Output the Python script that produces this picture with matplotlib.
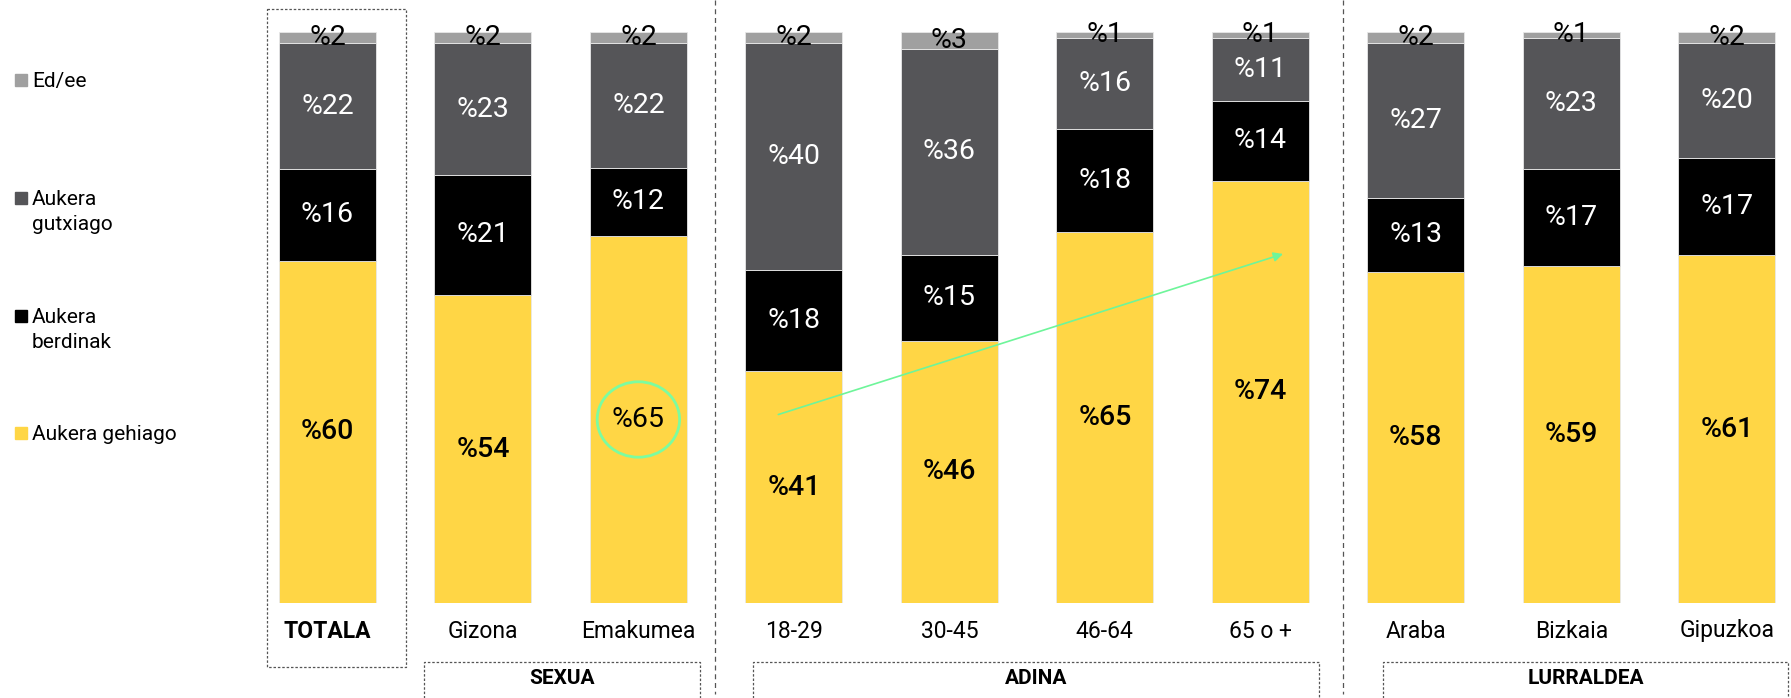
import matplotlib
matplotlib.use("Agg")
import matplotlib.pyplot as plt
import numpy as np
from matplotlib.patches import Rectangle, Ellipse
from matplotlib.lines import Line2D

plt.rcParams['font.family'] = ['Roboto', 'DejaVu Sans']

categories = ["TOTALA", "Gizona", "Emakumea", "18-29", "30-45", "46-64", "65 o +",
              "Araba", "Bizkaia", "Gipuzkoa"]
gehiago = [60, 54, 65, 41, 46, 65, 74, 58, 59, 61]
berdinak = [16, 21, 12, 18, 15, 18, 14, 13, 17, 17]
gutxiago = [22, 23, 22, 40, 36, 16, 11, 27, 23, 20]
edee = [2, 2, 2, 2, 3, 1, 1, 2, 1, 2]
series_names = ["Aukera gehiago", "Aukera berdinak", "Aukera gutxiago", "Ed/ee"]
groups = ["SEXUA", "ADINA", "LURRALDEA"]

colors = ["#FFD645", "#000000", "#555558", "#A0A0A0"]
text_colors = ["black", "white", "white", "black"]

W, H = 1791, 698
fig = plt.figure(figsize=(W / 100, H / 100), dpi=100)
ax = fig.add_axes([0.1394, 0.1356, 0.8606, 0.8186])

data = np.array([gehiago, berdinak, gutxiago, edee], dtype=float)
pct = data / data.sum(axis=0) * 100
x = np.arange(len(categories))
bottom = np.zeros(len(categories))
for k in range(4):
    ax.bar(x, pct[k], bottom=bottom, width=0.624, color=colors[k],
           edgecolor="#e8e8e8", linewidth=0.6)
    for i in range(len(categories)):
        yc = bottom[i] + pct[k][i] / 2
        weight = "medium" if k == 0 and i != 2 else "normal"
        ax.text(x[i], yc, f"%{int(data[k][i])}", ha="center", va="center",
                fontsize=20.5, color=text_colors[k], fontweight=weight)
    bottom += pct[k]

ax.set_xlim(-0.5, 9.413)
ax.set_ylim(0, 100)
ax.axis("off")

# Annotations: circle and arrow
ax.add_patch(Ellipse((2, pct[0][2] / 2), 0.53, 13.2, fill=False,
                     edgecolor="#7CFCA0", linewidth=2, zorder=5))
ax.annotate("", xy=(6.163, 61.3), xytext=(2.883, 32.9),
            arrowprops=dict(arrowstyle="-|>", color="#6EF59A", lw=1.2,
                            mutation_scale=14), zorder=5)

def fx(px):
    return px / W

def fy(py):
    return 1 - py / H

# Legend
leg = [("Ed/ee", None, 87), ("Aukera", "gutxiago", 205), ("Aukera", "berdinak", 323),
       ("Aukera gehiago", None, 440)]
leg_colors = [colors[3], colors[2], colors[1], colors[0]]
for (l1, l2, base), c in zip(leg, leg_colors):
    fig.patches.append(Rectangle((fx(15), fy(base - 1)), 12 / W, 12 / H,
                                 transform=fig.transFigure, color=c))
    fig.text(fx(32), fy(base), l1, fontsize=15, va="baseline", ha="left")
    if l2:
        fig.text(fx(32), fy(base + 25), l2, fontsize=15, va="baseline", ha="left")

# Category labels
xt = ax.transData
for i, c in enumerate(categories):
    xf = fig.transFigure.inverted().transform(xt.transform((x[i], 0)))[0]
    fig.text(xf, fy(631), c, ha="center", va="center", fontsize=16.5,
             fontweight="bold" if c == "TOTALA" else "normal")

dash_box = (0, (2, 1.5))
dash_sep = (0, (4, 3))
lc = "#555555"

def fline(xs, ys, ls):
    fig.add_artist(Line2D([fx(v) for v in xs], [fy(v) for v in ys],
                          transform=fig.transFigure, color=lc, lw=0.9, linestyle=ls))

# TOTALA box
fline([267, 406, 406, 267, 267], [9, 9, 667, 667, 9], dash_box)
# separators
fline([715, 715], [0, 694], dash_sep)
fline([1343, 1343], [0, 694], dash_sep)
# group boxes
gboxes = [(424, 700), (753, 1319), (1383, 1788)]
for (x0, x1), g in zip(gboxes, groups):
    fline([x0, x0, x1, x1], [698, 662, 662, 698], dash_box)
    fig.text(fx((x0 + x1) / 2), fy(679), g, ha="center", va="center",
             fontsize=15, fontweight="bold")

fig.savefig("out.png", dpi=100)
